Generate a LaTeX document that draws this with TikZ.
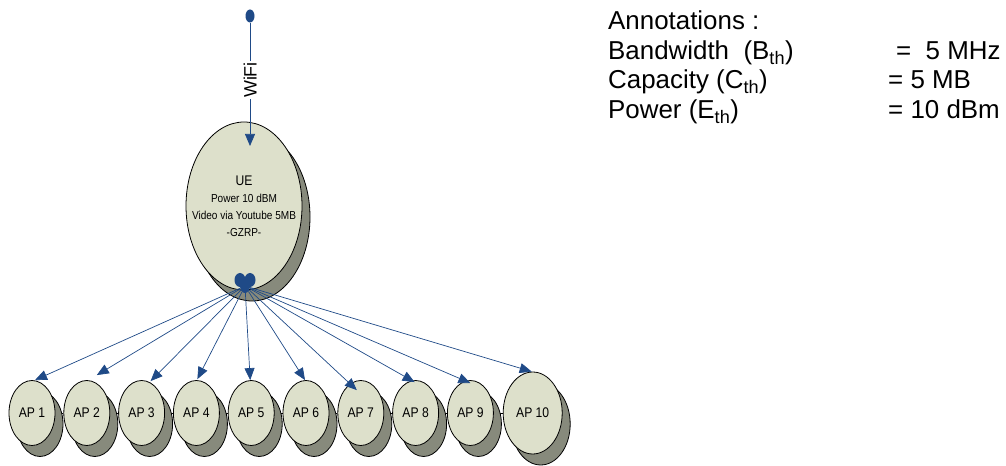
\documentclass[tikz,border=0pt]{standalone}
\usepackage{fontspec}
\setmainfont{Liberation Sans}
\newfontfamily\narrowsf[FakeStretch=0.87]{Liberation Sans}
\usetikzlibrary{shapes.geometric,arrows.meta,shadows,backgrounds,positioning}

\definecolor{nodefill}{HTML}{DDE0CB}
\definecolor{shadowgray}{HTML}{878A7C}
\definecolor{linkblue}{HTML}{1F4A87}

\begin{document}
\begin{tikzpicture}[x=1bp,y=-1bp,
  station/.style={draw, fill=nodefill, ellipse, line width=0.8bp, inner sep=0pt,
    copy shadow={shadow xshift=8bp, shadow yshift=-11bp, fill=shadowgray, draw=black, line width=0.8bp}},
  ap/.style={station, minimum width=46bp, minimum height=65bp,
    font=\narrowsf\fontsize{14}{16}\selectfont},
  dotnode/.style={fill=linkblue, ellipse, inner sep=0pt},
  link/.style={draw=linkblue, line width=0.7bp, -{Triangle[length=12bp,width=10bp]}},
  note/.style={anchor=base west, inner sep=0pt, font=\fontsize{26}{29}\selectfont}]

  \useasboundingbox (0,0) rectangle (1006,466);

  % user equipment and its wifi source
  \node[dotnode, minimum width=9bp, minimum height=13bp] (src) at (250,16) {};
  \node[station, minimum width=116bp, minimum height=168bp, inner xsep=-14bp, align=center,
        font=\narrowsf\fontsize{11.6}{16.7}\selectfont] (ue) at (244,206)
        {{\fontsize{14}{16.7}\selectfont UE}\\[1bp] Power 10 dBM\\ Video via Youtube 5MB\\ -GZRP-};
  \coordinate (uein) at (250,146);
  \draw[link] (src) -- (uein);
  \node[fill=white, rotate=90, inner sep=1bp, font=\fontsize{18}{18}\selectfont] (wifi) at (250,80) {WiFi};

  % hub at the bottom of the UE
  \node[dotnode, minimum width=11bp, minimum height=14bp] (huba) at (240,280) {};
  \node[dotnode, minimum width=11bp, minimum height=14bp] (hubb) at (250,280) {};
  \node[dotnode, minimum width=10bp, minimum height=14bp] (hub) at (245,286) {};

  % access points
  \node[ap] (ap1) at (32,413) {AP 1};
  \foreach \i [remember=\i as \prev (initially 1)] in {2,...,9}
    \node[ap, right=8bp of ap\prev] (ap\i) {AP \i};
  \node[ap, minimum width=59bp, minimum height=82bp, right=9bp of ap9] (ap10) {AP 10};

  \begin{scope}[on background layer]
    \foreach \i [remember=\i as \prev (initially 1)] in {2,...,10}
      \draw[line width=0.6bp] (ap\prev) -- (ap\i);
  \end{scope}

  \foreach \i/\dx/\dy in {1/3/0, 2/10/-5, 3/9/1, 4/1/-1, 5/-1/0, 6/-1/0, 7/-4/10, 8/-1/2, 9/0/3, 10/-1/0}
    \draw[link] (hub) -- ([shift={(\dx,\dy)}]ap\i.north);

  % annotations
  \node[note] (anntitle) at (608,30) {Annotations :};
  \node[note] (bw) at (608,59.5) {Bandwidth\ \ (B\textsubscript{th})};
  \node[note] (cap) at (608,89) {Capacity (C\textsubscript{th})};
  \node[note] (pow) at (608,118.5) {Power (E\textsubscript{th})};
  \node[note] (bwval) at (896,59.5) {=\ \ 5 MHz};
  \node[note] (capval) at (888,89) {= 5 MB};
  \node[note] (powval) at (888,118.5) {= 10 dBm};

\end{tikzpicture}
\end{document}
